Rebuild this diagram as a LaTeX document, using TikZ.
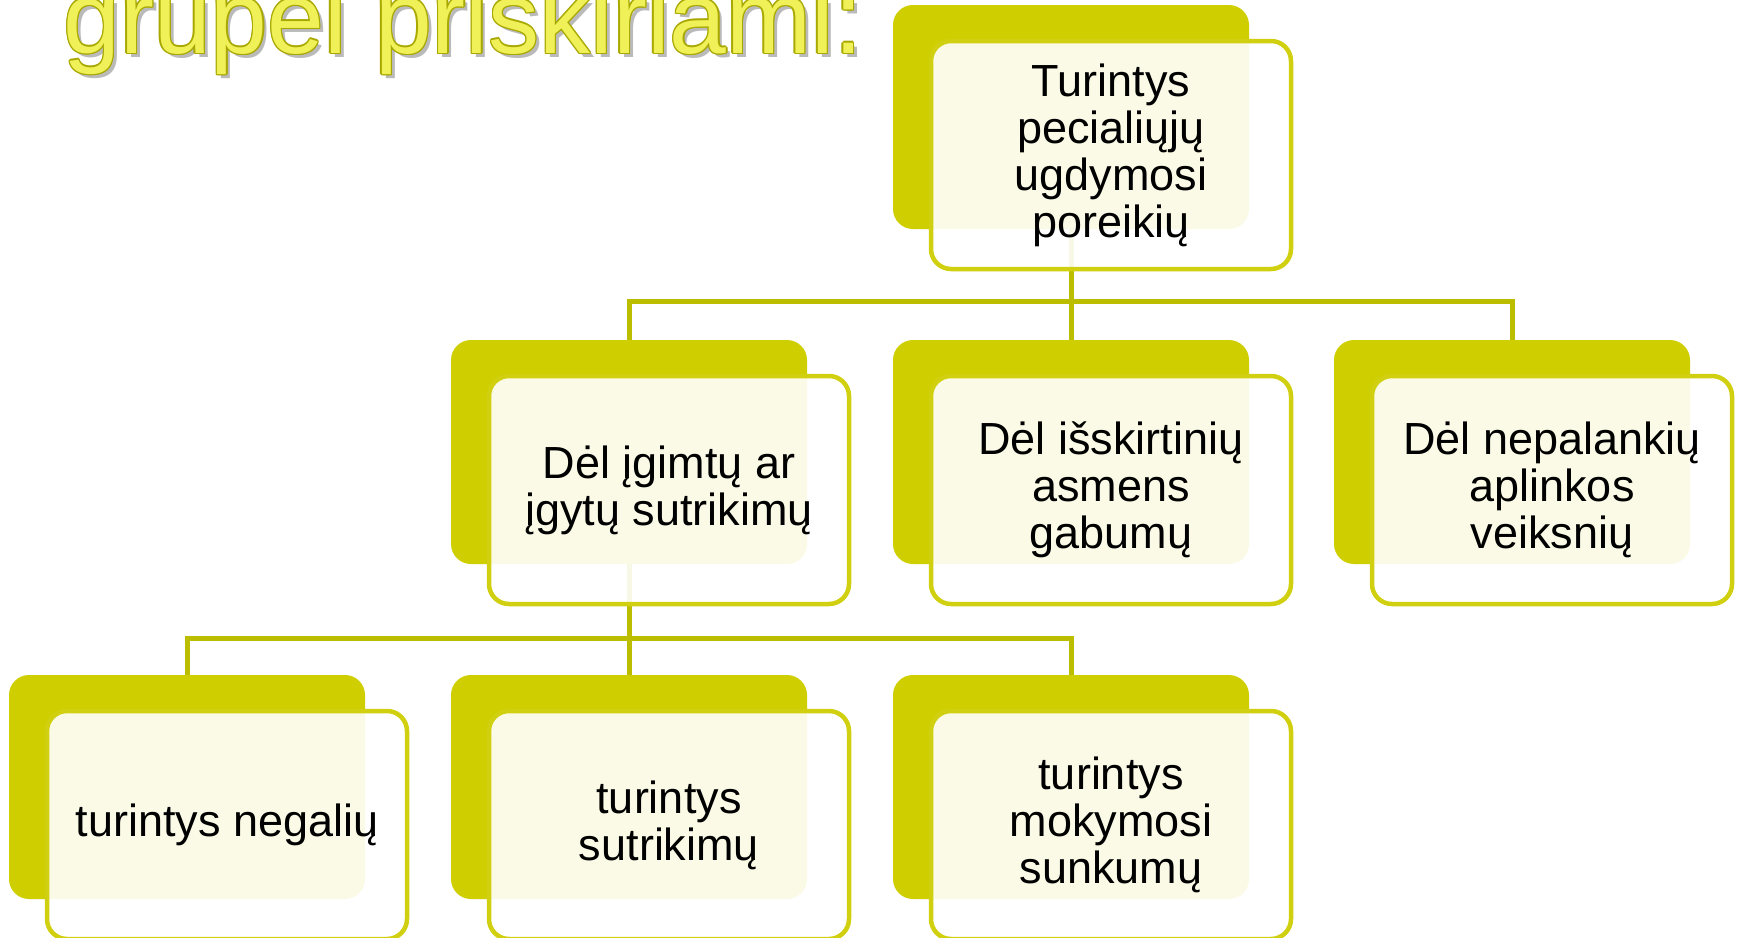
\documentclass[tikz,border=0pt]{standalone}
\usepackage{fontspec}
\setmainfont{Liberation Sans}
\usepackage{tikz}
\usetikzlibrary{calc}
\definecolor{boxolive}{RGB}{206,206,0}
\definecolor{lineolive}{RGB}{189,189,0}
\definecolor{cardline}{RGB}{208,208,16}
\definecolor{titlefill}{RGB}{240,240,88}
\definecolor{titleline}{RGB}{168,168,0}

\begin{document}
\begin{tikzpicture}[x=0.5pt,y=-0.5pt,
	back/.style={rectangle,rounded corners=10pt,fill=boxolive,minimum width=178pt,minimum height=112pt,inner sep=0pt},
	card/.style={rectangle,rounded corners=10pt,draw=cardline,line width=2.25pt,fill=white,fill opacity=0.9,text opacity=1,minimum width=180pt,minimum height=114pt,inner sep=0pt,align=center,font=\fontsize{22.5}{23.5}\selectfont},
	link/.style={draw=lineolive,line width=2.5pt},
	title/.style={font=\fontsize{51}{51}\selectfont,anchor=base west,inner sep=0pt}]
\clip (0,0) rectangle (1742,938);
\fill[white] (0,0) rectangle (1742,938);

\node [title,text=black!45,text opacity=0.6] (titleshadow) at (67,57) {grupei priskiriami:};
\foreach \dx/\dy [count=\i] in {1.4/0,-1.4/0,0/1.4,0/-1.4,1/1,1/-1,-1/1,-1/-1}
	\node [title,text=titleline] (titlerim\i) at (63+\dx,53+\dy) {grupei priskiriami:};
\node [title,text=titlefill] (title) at (63,53) {grupei priskiriami:};

\node [back] (f) at (1071,117) {};
\node [back] (d1) at (629,452) {};
\node [back] (d2) at (1071,452) {};
\node [back] (d3) at (1512,452) {};
\node [back] (t1) at (187,787) {};
\node [back] (t2) at (629,787) {};
\node [back] (t3) at (1071,787) {};

\coordinate (j1) at ($(f.south)+(0,72)$);
\draw [link] (f.south) -- (j1);
\draw [link] (d1.north) |- (j1) -| (d3.north);
\draw [link] (j1) -- (d2.north);
\coordinate (j2) at ($(d1.south)+(0,74)$);
\draw [link] (d1.south) -- (j2);
\draw [link] (t1.north) |- (j2) -| (t3.north);
\draw [link] (j2) -- (t2.north);

\node [card] (cf) at ($(f)+(40,38)$) {Turintys\\pecialiųjų\\ugdymosi\\poreikių};
\node [card] (cd1) at ($(d1)+(40,38)$) {Dėl įgimtų ar\\įgytų sutrikimų};
\node [card] (cd2) at ($(d2)+(40,38)$) {Dėl išskirtinių\\asmens\\gabumų};
\node [card] (cd3) at ($(d3)+(40,38)$) {Dėl nepalankių\\aplinkos\\veiksnių};
\node [card] (ct1) at ($(t1)+(40,38)$) {turintys negalių};
\node [card] (ct2) at ($(t2)+(40,38)$) {turintys\\sutrikimų};
\node [card] (ct3) at ($(t3)+(40,38)$) {turintys\\mokymosi\\sunkumų};
\end{tikzpicture}
\end{document}
